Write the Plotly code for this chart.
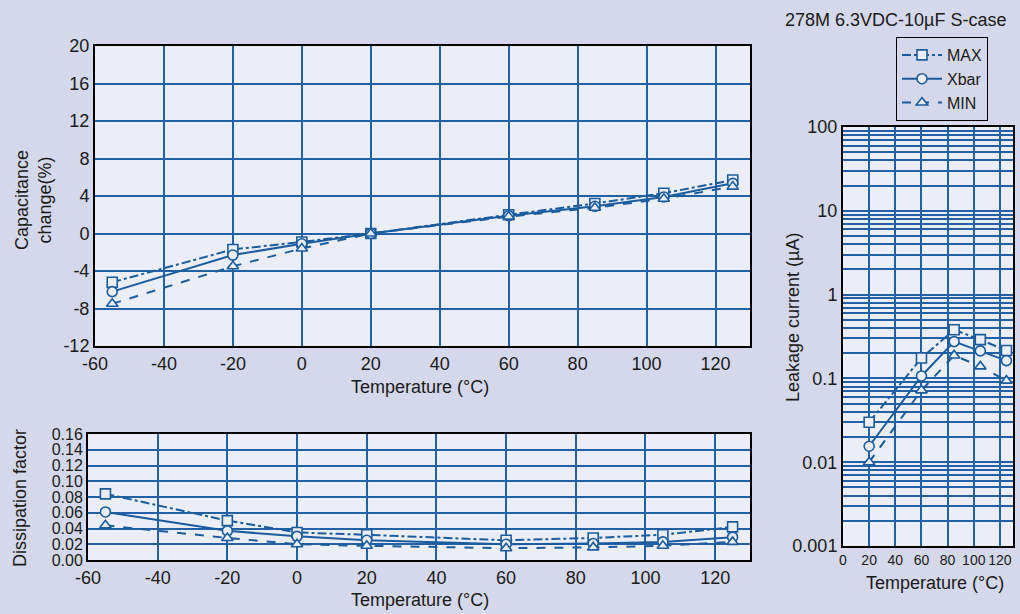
import plotly.graph_objects as go

# ---------------- data ----------------
temps = [-55, -20, 0, 20, 60, 85, 105, 125]
cap_max = [-5.2, -1.7, -0.9, 0.0, 2.0, 3.2, 4.3, 5.7]
cap_xbar = [-6.2, -2.3, -1.1, 0.0, 1.9, 2.9, 3.9, 5.35]
cap_min = [-7.5, -3.5, -1.6, 0.0, 1.8, 2.75, 3.7, 5.0]

df_max = [0.084, 0.050, 0.035, 0.032, 0.025, 0.028, 0.032, 0.042]
df_xbar = [0.061, 0.037, 0.030, 0.025, 0.020, 0.021, 0.023, 0.029]
df_min = [0.044, 0.028, 0.020, 0.018, 0.015, 0.016, 0.018, 0.023]

leak_temps = [20, 60, 85, 105, 125]
leak_max = [0.030, 0.175, 0.38, 0.29, 0.215]
leak_xbar = [0.0155, 0.107, 0.275, 0.213, 0.163]
leak_min = [0.010, 0.072, 0.188, 0.139, 0.094]

series_names = ["MAX", "Xbar", "MIN"]
title_text = "278M 6.3VDC-10\u00b5F S-case"

temp_ticks = [-60, -40, -20, 0, 20, 40, 60, 80, 100, 120]
temp_ticktext = ["-60", "-40", "-20", "0", "20", "40", "60", "80", "100", "120"]
cap_ticks = [-12, -8, -4, 0, 4, 8, 12, 16, 20]
cap_ticktext = ["-12", "-8", "-4", "0", "4", "8", "12", "16", "20"]
df_ticks = [0, 0.02, 0.04, 0.06, 0.08, 0.10, 0.12, 0.14, 0.16]
leak_xticks = [0, 20, 40, 60, 80, 100, 120]
leak_yticks = [0.001, 0.01, 0.1, 1, 10, 100]
leak_yticktext = ["0.001", "0.01", "0.1", "1", "10", "100"]

# ---------------- styles ----------------
BLUE = "#1b5c9e"
GRID = "#2261a5"
PAGE = "#d5d8ea"
PLOT = "#eceef7"
TXT = "#1a1a1a"
FONT = "Liberation Sans, Arial, sans-serif"
NARROW = "Liberation Sans Narrow, Arial Narrow, Liberation Sans, sans-serif"

styles = {
    "MAX": dict(dash="dashdot", symbol="square"),
    "Xbar": dict(dash="solid", symbol="circle"),
    "MIN": dict(dash="dash", symbol="triangle-up"),
}

fig = go.Figure()


def add_set(x, ys, xa, ya, legend):
    for name, y in zip(series_names, ys):
        st = styles[name]
        fig.add_trace(go.Scatter(
            x=x, y=y, name=name, mode="lines+markers",
            xaxis=xa, yaxis=ya, showlegend=legend,
            line=dict(color=BLUE, width=2, dash=st["dash"]),
            marker=dict(symbol=st["symbol"], size=10, color=PLOT,
                        line=dict(color=BLUE, width=1.6)),
        ))


add_set(temps, [cap_max, cap_xbar, cap_min], "x", "y", True)
add_set(temps, [df_max, df_xbar, df_min], "x2", "y2", False)
add_set(leak_temps, [leak_max, leak_xbar, leak_min], "x3", "y3", False)

W, H = 1020, 614


def dx(a, b):
    return [a / W, b / W]


def dy(top, bottom):
    return [1 - bottom / H, 1 - top / H]


axis_common = dict(
    showgrid=True, gridcolor=GRID, gridwidth=1.5,
    showline=True, linecolor="black", linewidth=2, mirror=True,
    zeroline=False, ticks="", automargin=False, tickangle=0,
    tickfont=dict(family=FONT, size=18, color=TXT),
)

fig.update_layout(
    width=W, height=H,
    margin=dict(l=0, r=0, t=0, b=0),
    paper_bgcolor=PAGE, plot_bgcolor=PLOT,
    font=dict(family=FONT, color=TXT),
    xaxis=dict(domain=dx(95, 750), anchor="y", range=[-60, 130],
               tickvals=temp_ticks, ticktext=temp_ticktext, **axis_common),
    yaxis=dict(domain=dy(46, 346), anchor="x", range=[-12, 20],
               tickvals=cap_ticks, ticktext=cap_ticktext, **axis_common),
    xaxis2=dict(domain=dx(88, 750), anchor="y2", range=[-60, 130],
                tickvals=temp_ticks, ticktext=temp_ticktext, **axis_common),
    yaxis2=dict(domain=dy(434, 560), anchor="x2", range=[0, 0.16],
                tickvals=df_ticks, tickformat=".2f",
                **{**axis_common, "tickfont": dict(family=FONT, size=16, color=TXT)}),
    xaxis3=dict(domain=dx(843, 1013), anchor="y3", range=[0, 130],
                tickvals=leak_xticks,
                **{**axis_common, "tickfont": dict(family=NARROW, size=14, color=TXT)}),
    yaxis3=dict(domain=dy(127, 546), anchor="x3", type="log", range=[-3, 2],
                tickvals=leak_yticks, ticktext=leak_yticktext,
                minor=dict(showgrid=True, gridcolor=GRID, gridwidth=1.5, dtick="D1"),
                **axis_common),
    legend=dict(x=896 / W, y=1 - 37 / H, xanchor="left", yanchor="top",
                bgcolor=PAGE, bordercolor="black", borderwidth=1,
                font=dict(family=FONT, size=16, color=TXT),
                itemwidth=40, tracegroupgap=0),
)

ann = [
    (title_text, 895, 20, 0),
    ("Capacitance<br>change(%)", 34, 200, -90),
    ("Temperature (\u00b0C)", 420, 387, 0),
    ("Dissipation factor", 20, 498, -90),
    ("Temperature (\u00b0C)", 420, 600, 0),
    ("Leakage current (\u00b5A)", 793, 318, -90),
    ("Temperature (\u00b0C)", 935, 583, 0),
]
for text, px, py, ang in ann:
    fig.add_annotation(xref="paper", yref="paper", showarrow=False,
                       xanchor="center", yanchor="middle",
                       x=px / W, y=1 - py / H, text=text, textangle=ang,
                       font=dict(family=FONT, color=TXT, size=18))

fig.write_html("out.html")
